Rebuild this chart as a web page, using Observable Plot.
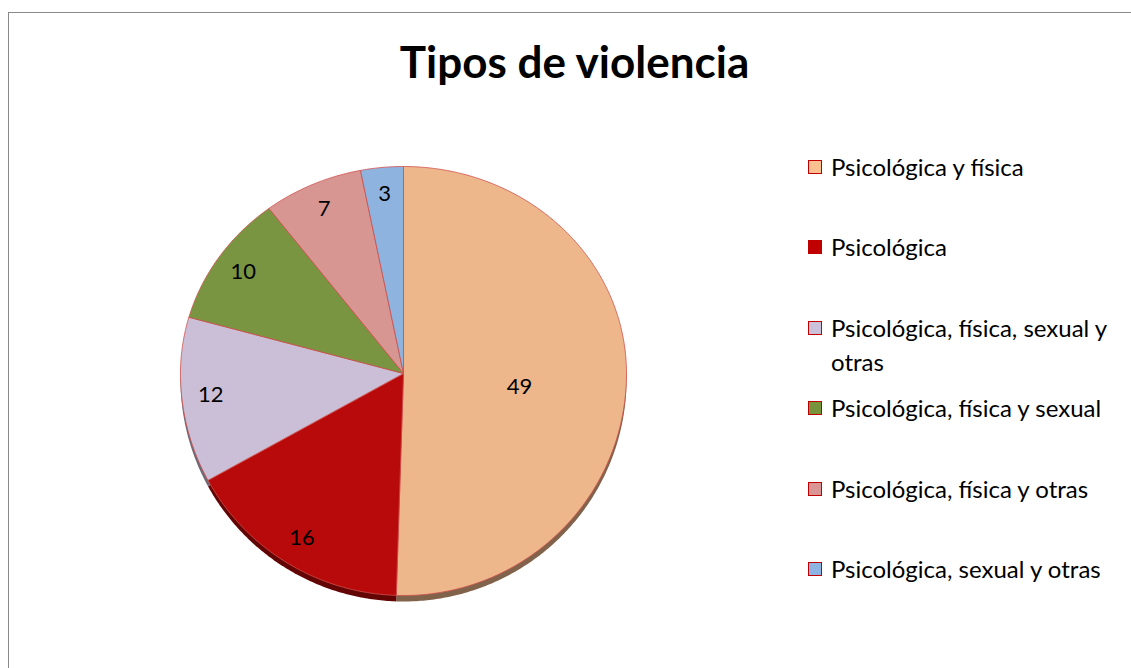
<!DOCTYPE html>
<html>
<head>
<meta charset="utf-8">
<script src="https://cdn.jsdelivr.net/npm/d3@7"></script>
<script src="https://cdn.jsdelivr.net/npm/@observablehq/plot@0.6"></script>
<style>
  html, body { margin: 0; padding: 0; background: #fff; overflow: hidden; }
  #wrap { position: relative; width: 1131px; height: 668px; overflow: hidden; font-family: Lato, "Open Sans", sans-serif; }
  #frame { position: absolute; left: 8px; top: 12px; width: 1300px; height: 800px; border: 1px solid #8a8a8a; }
  #title { position: absolute; left: 0; width: 1149px; top: 33px; text-align: center; font-weight: bold; font-size: 44px; line-height: 56px; color: #000; }
  #chart { position: absolute; left: 0; top: 0; }
  #legend { position: absolute; left: 808px; top: 150px; }
  .item { position: relative; height: 80.4px; }
  .sw { position: absolute; left: 0; top: 10px; width: 12px; height: 12px; border: 1.5px solid #c00000; }
  .lab { position: absolute; left: 23px; top: 0; width: 292px; font-size: 24px; line-height: 34px; color: #000; white-space: normal; }
</style>
</head>
<body>
<div id="wrap">
  <div id="frame"></div>
  <div id="chart"></div>
  <div id="title"></div>
  <div id="legend"></div>
</div>
<script>
const title = "Tipos de violencia";
const categories = [
  "Psicológica y física",
  "Psicológica",
  "Psicológica, física, sexual y otras",
  "Psicológica, física y sexual",
  "Psicológica, física y otras",
  "Psicológica, sexual y otras"
];
const values = [49, 16, 12, 10, 7, 3];
const sliceColors = ["#EDB68B", "#B80A0A", "#CBBFD7", "#7A9542", "#D89693", "#8FB3DF"];
const legendColors = ["#FAC090", "#C00000", "#CCC1DA", "#77933C", "#D99694", "#8EB4E3"];

document.getElementById("title").textContent = title;

// perspective: the apex sits a little above the middle of the outline
const tilt = -0.035;
const py = v => v < 0 ? tilt + v * (1 + tilt) : tilt + v * (1 - tilt);

const arcs = d3.pie().sort(null).value(d => d)(values);
const slices = arcs.map((a, i) => {
  const p = [{x: 0, y: py(0)}];
  const n = Math.max(4, Math.ceil((a.endAngle - a.startAngle) / 0.01));
  for (let k = 0; k <= n; k++) {
    const t = a.startAngle + (a.endAngle - a.startAngle) * k / n;
    p.push({x: Math.sin(t), y: py(-Math.cos(t))});
  }
  p.push({x: 0, y: py(0)});
  return p;
});
const labels = arcs.map((a, i) => {
  const m = (a.startAngle + a.endAngle) / 2;
  const inside = values[i] > 40;
  const r = inside ? 0.52 : 0.87;
  return {v: values[i], inside, x: r * Math.sin(m), y: py(-r * Math.cos(m))};
});

const marks = [];
slices.forEach((p, i) => {
  marks.push(Plot.line(p, {x: "x", y: "y", fill: d3.color(sliceColors[i]).darker(1.7).formatHex(), stroke: "none", dy: 6}));
});
slices.forEach((p, i) => {
  marks.push(Plot.line(p, {x: "x", y: "y", fill: sliceColors[i], stroke: "#D0504D", strokeWidth: 0.8, strokeLinejoin: "round"}));
});
marks.push(Plot.text(labels.filter(d => !d.inside), {x: "x", y: "y", text: d => String(d.v), fontSize: 22, fill: "#000"}));
marks.push(Plot.text(labels.filter(d => d.inside), {x: "x", y: "y", text: d => String(d.v), fontSize: 22, fill: "#000", dy: 12}));

const chart = Plot.plot({
  width: 1131,
  height: 668,
  margin: 0,
  x: {type: "linear", domain: [-1, 1], range: [180, 626], axis: null},
  y: {type: "linear", domain: [-1, 1], range: [166, 595], axis: null},
  style: {background: "transparent", fontFamily: "Lato, 'Open Sans', sans-serif", overflow: "visible"},
  marks
});
document.getElementById("chart").appendChild(chart);

const legend = document.getElementById("legend");
categories.forEach((c, i) => {
  const it = document.createElement("div");
  it.className = "item";
  const sw = document.createElement("div");
  sw.className = "sw";
  sw.style.background = legendColors[i];
  const lb = document.createElement("div");
  lb.className = "lab";
  lb.textContent = c;
  it.appendChild(sw);
  it.appendChild(lb);
  legend.appendChild(it);
});
</script>
</body>
</html>
